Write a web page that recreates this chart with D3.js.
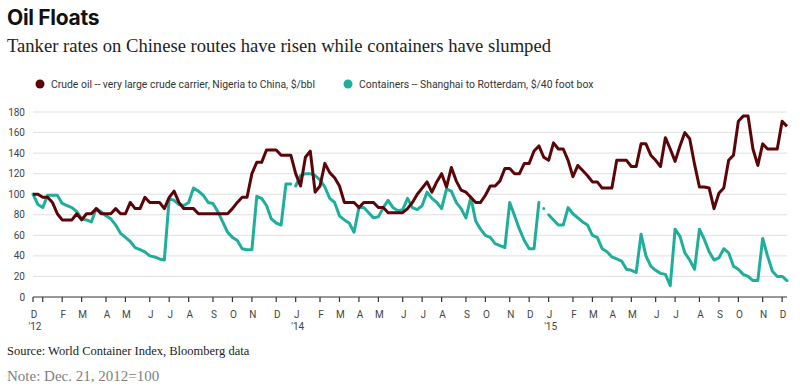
<!DOCTYPE html>
<html>
<head>
<meta charset="utf-8">
<script src="https://cdn.jsdelivr.net/npm/d3@7"></script>
<style>
  body { margin: 0; background: #fff; }
  #svg-container { width: 800px; height: 386px; }
  svg { display: block; }
</style>
</head>
<body>
<div id="svg-container"></div>
<script>
////////////////////////////////////////////////////////////////////
////////////////////////////  Data  ////////////////////////////////
// weekly readings, first one is Fri Dec 21 2012 (=100)
const startDate = "2012-12-21";

const crude = [
  100, 100, 97, 97, 92, 81, 75, 75, 75, 81, 75, 81, 81, 86, 81, 81, 81, 86, 81, 81,
  92, 86, 86, 97, 92, 92, 92, 86, 97, 103, 92, 86, 86, 86, 81, 81, 81, 81, 81, 81,
  81, 86, 92, 97, 97, 120, 131, 131, 143, 143, 143, 138, 138, 138, 120, 108, 136, 142, 102, 108,
  130, 121, 116, 108, 92, 92, 92, 87, 92, 92, 92, 87, 87, 82, 82, 82, 82, 86, 92, 100,
  106, 112, 102, 112, 120, 107, 126, 113, 104, 102, 97, 92, 92, 99, 108, 108, 113, 125, 125, 120,
  120, 130, 130, 142, 147, 136, 133, 150, 144, 144, 133, 117, 128, 123, 118, 112, 112, 106, 106, 106,
  133, 133, 133, 127, 127, 149, 149, 138, 133, 127, 155, 144, 132, 147, 160, 154, 129, 107, 107, 106,
  86, 101, 106, 133, 138, 171, 176, 176, 144, 128, 149, 144, 144, 144, 171, 166
];

const containers = [
  100, 90, 87, 99, 99, 99, 91, 89, 87, 83, 76, 75, 73, 86, 83, 79, 76, 70, 62, 58,
  54, 48, 46, 44, 40, 39, 37, 36, 96, 94, 90, 89, 92, 106, 103, 99, 92, 91, 83, 73,
  63, 58, 55, 47, 46, 46, 98, 96, 89, 76, 72, 70, 110, 110, 108, 118, 120, 120, 118, 114,
  107, 96, 92, 79, 75, 72, 63, 87, 87, 82, 77, 78, 87, 94, 87, 84, 85, 96, 87, 85,
  89, 102, 96, 92, 86, 105, 103, 92, 86, 77, 97, 74, 66, 60, 58, 52, 50, 48, 92, 79,
  66, 55, 47, 47, 92, 86, 80, 75, 70, 70, 87, 81, 77, 73, 70, 60, 58, 47, 44, 39,
  37, 35, 27, 26, 24, 61, 40, 30, 26, 23, 22, 11, 66, 59, 43, 36, 27, 66, 56, 44,
  36, 38, 47, 43, 30, 27, 22, 20, 16, 16, 57, 40, 25, 20, 20, 16
];

// container series has holes over the holiday weeks (line breaks after these indexes)
const containerBreaks = [53, 104, 105];

const yTicks = [0, 20, 40, 60, 80, 100, 120, 140, 160, 180];
const monthLetters = ["J", "F", "M", "A", "M", "J", "J", "A", "S", "O", "N", "D"];

const seriesNames = [
  "Crude oil -- very large crude carrier, Nigeria to China, $/bbl",
  "Containers -- Shanghai to Rotterdam, $/40 foot box"
];
const colors = ["#5c0508", "#1fae9b"];

////////////////////////////////////////////////////////////////////
////////////////////////////  Init  ////////////////////////////////
const width = 800;
const height = 386;
const margin = { top: 112, right: 13, bottom: 89, left: 33 };

const svg = d3.select("#svg-container").append("svg")
  .attr("width", width)
  .attr("height", height);

const parseTime = d3.timeParse("%Y-%m-%d");
const start = parseTime(startDate);
const dates = crude.map((d, i) => d3.timeDay.offset(start, i * 7));

const xScale = d3.scaleTime()
  .domain(d3.extent(dates))
  .range([margin.left, width - margin.right]);
const yScale = d3.scaleLinear()
  .domain([0, 180])
  .range([height - margin.bottom, margin.top]);

// titles
svg.append("text")
  .attr("x", 7).attr("y", 25)
  .attr("font-family", "Inter, sans-serif")
  .attr("font-weight", 700)
  .attr("font-size", 21)
  .attr("letter-spacing", -0.3)
  .attr("fill", "#111")
  .text("Oil Floats");

svg.append("text")
  .attr("x", 7).attr("y", 52)
  .attr("font-family", "'Liberation Serif', serif")
  .attr("font-size", 18.6)
  .attr("fill", "#222")
  .text("Tanker rates on Chinese routes have risen while containers have slumped");

// legend
const legendX = [40, 348];
const legend = svg.selectAll(".legend")
  .data(seriesNames)
  .join("g")
  .attr("class", "legend")
  .attr("transform", (d, i) => `translate(${legendX[i]},84)`);
legend.append("circle")
  .attr("r", 4.5)
  .attr("fill", (d, i) => colors[i]);
legend.append("text")
  .attr("x", 11).attr("y", 3.5)
  .attr("font-family", "Roboto, sans-serif")
  .attr("font-size", 10.4)
  .attr("fill", "#333")
  .text((d) => d);

// grid + y labels
svg.append("g")
  .selectAll("line")
  .data(yTicks.filter((d) => d > 0))
  .join("line")
  .attr("x1", margin.left).attr("x2", width - margin.right)
  .attr("y1", (d) => yScale(d)).attr("y2", (d) => yScale(d))
  .attr("stroke", "#e0e0e0")
  .attr("stroke-width", 1);

svg.append("g")
  .selectAll("text")
  .data(yTicks)
  .join("text")
  .attr("x", 25)
  .attr("y", (d) => yScale(d) + 3.5)
  .attr("text-anchor", "end")
  .attr("font-family", "Roboto, sans-serif")
  .attr("font-size", 10)
  .attr("fill", "#444")
  .text((d) => d);

// x axis: tick at first reading of each month
const tickDates = dates.filter((d, i) => i === 0 || d.getMonth() !== dates[i - 1].getMonth());

svg.append("line")
  .attr("x1", margin.left).attr("x2", width - margin.right)
  .attr("y1", yScale(0)).attr("y2", yScale(0))
  .attr("stroke", "#333")
  .attr("stroke-width", 1);

svg.append("g")
  .selectAll("line")
  .data(tickDates)
  .join("line")
  .attr("x1", (d) => xScale(d)).attr("x2", (d) => xScale(d))
  .attr("y1", yScale(0)).attr("y2", yScale(0) + 5)
  .attr("stroke", "#333")
  .attr("stroke-width", 1.2);

// labels, skipping the one that would crowd the first
let lastX = -100;
const labelDates = tickDates.filter((d) => {
  const x = xScale(d);
  if (x - lastX < 12) return false;
  lastX = x;
  return true;
});

const xLabels = svg.append("g")
  .attr("font-family", "Roboto, sans-serif")
  .attr("font-size", 10)
  .attr("fill", "#444")
  .attr("text-anchor", "middle");

xLabels.selectAll(".month")
  .data(labelDates)
  .join("text")
  .attr("class", "month")
  .attr("x", (d) => xScale(d) + 1)
  .attr("y", 318)
  .text((d) => monthLetters[d.getMonth()]);

xLabels.selectAll(".year")
  .data(labelDates.filter((d, i) => i === 0 || d.getMonth() === 0))
  .join("text")
  .attr("class", "year")
  .attr("x", (d) => xScale(d) + 2)
  .attr("y", 330)
  .text((d) => "'" + d3.timeFormat("%y")(d));

// lines
const line = d3.line()
  .defined((d) => d.value != null)
  .x((d) => xScale(d.date))
  .y((d) => yScale(d.value));

const crudeData = crude.map((v, i) => ({ date: dates[i], value: v }));

// split container series into runs at the breaks
const containerRuns = [];
let run = [];
containers.forEach((v, i) => {
  run.push({ date: dates[i], value: v });
  if (containerBreaks.includes(i)) {
    containerRuns.push(run);
    run = [];
  }
});
containerRuns.push(run);

svg.append("g")
  .selectAll("path")
  .data(containerRuns)
  .join("path")
  .attr("d", line)
  .attr("fill", "none")
  .attr("stroke", colors[1])
  .attr("stroke-width", 3)
  .attr("stroke-linejoin", "round")
  .attr("stroke-linecap", "round");

svg.append("path")
  .datum(crudeData)
  .attr("d", line)
  .attr("fill", "none")
  .attr("stroke", colors[0])
  .attr("stroke-width", 3)
  .attr("stroke-linejoin", "round");

// footer
svg.append("text")
  .attr("x", 7).attr("y", 355)
  .attr("font-family", "'Liberation Serif', serif")
  .attr("font-size", 12.5)
  .attr("fill", "#222")
  .text("Source: World Container Index, Bloomberg data");

svg.append("text")
  .attr("x", 7).attr("y", 381)
  .attr("font-family", "'Liberation Serif', serif")
  .attr("font-size", 15)
  .attr("fill", "#808080")
  .text("Note: Dec. 21, 2012=100");
</script>
</body>
</html>
